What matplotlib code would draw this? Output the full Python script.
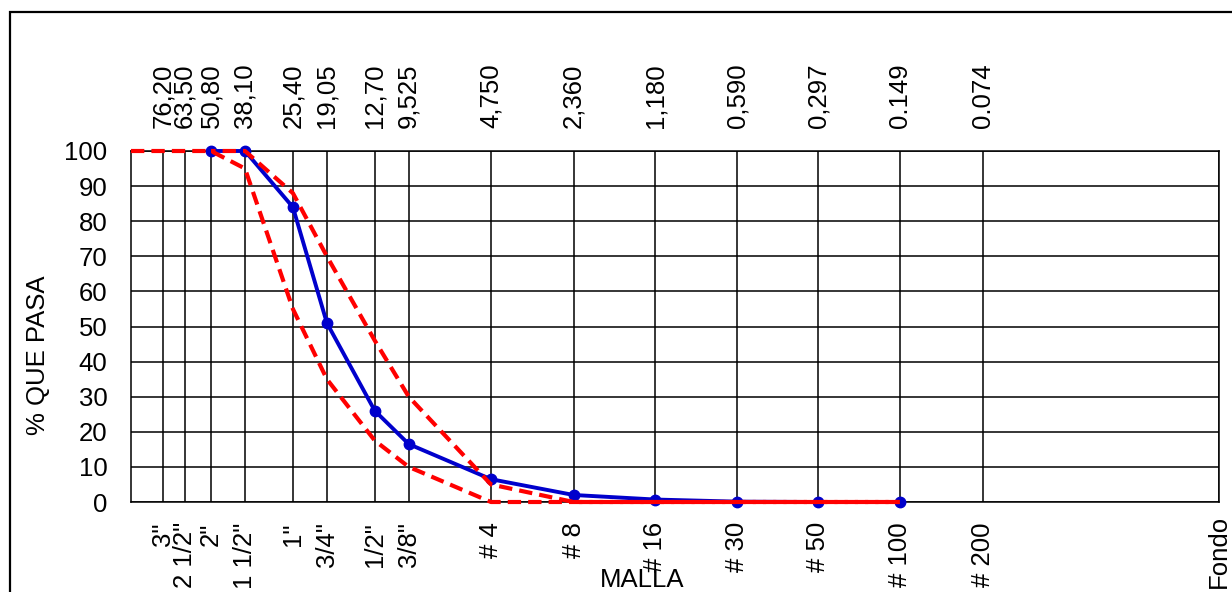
import matplotlib
matplotlib.use("Agg")
import matplotlib.pyplot as plt
import numpy as np
from matplotlib.patches import Rectangle
from matplotlib.transforms import ScaledTranslation

plt.rcParams['font.family'] = ['Liberation Sans', 'DejaVu Sans']

# sieve openings (mm) and labels
sieve_mm = [76.2, 63.5, 50.8, 38.1, 25.4, 19.05, 12.7, 9.525, 4.75,
            2.36, 1.18, 0.59, 0.297, 0.149, 0.074]
mm_labels = ["76,20", "63,50", "50,80", "38,10", "25,40", "19,05", "12,70",
             "9,525", "4,750", "2,360", "1,180", "0,590", "0,297", "0.149",
             "0.074"]
fondo_mm = 0.01
sieve_names = ['3"', '2 1/2"', '2"', '1 1/2"', '1"', '3/4"', '1/2"', '3/8"',
               '# 4', '# 8', '# 16', '# 30', '# 50', '# 100', '# 200', 'Fondo']

# sample gradation
sample_mm = [50.8, 38.1, 25.4, 19.05, 12.7, 9.525, 4.75, 2.36, 1.18,
             0.59, 0.297, 0.149]
sample_pass = [100, 100, 84, 51, 26, 16.5, 6.5, 2, 0.7, 0.1, 0, 0]

# specification limits
limit_mm = [100, 76.2, 63.5, 50.8, 38.1, 25.4, 19.05, 12.7, 9.525, 4.75,
            2.36, 1.18, 0.59, 0.297, 0.149]
upper_pass = [100, 100, 100, 100, 100, 88, 70, 46, 30, 5, 0, 0, 0, 0, 0]
lower_pass = [100, 100, 100, 100, 95, 55, 35, 17.5, 10, 0, 0, 0, 0, 0, 0]

W, H = 1232, 592
FS = 18.5
fig = plt.figure(figsize=(W / 100, H / 100), dpi=100)
ax = fig.add_axes([131 / W, 1 - 502 / H, (1219 - 131) / W, (502 - 151) / H])

ax.set_xscale('log')
ax.set_xlim(100, fondo_mm)
ax.set_ylim(0, 100)

lw_red = 3
dash = (3.2, 1.7)
period = sum(dash)


def path_len(xs, ys, upto):
    pts = ax.transData.transform(np.column_stack([xs, ys]))[:upto + 1]
    seg = np.hypot(*np.diff(pts, axis=0).T)
    return seg.sum() * 72 / fig.dpi / lw_red


# the upper limit is drawn from where it leaves the lower one (50.8 mm);
# its dash phase is set so both limits fill each other's gaps along 0 %
j = limit_mm.index(50.8)
i0 = limit_mm.index(2.36)
off_up = (path_len(limit_mm, lower_pass, i0)
          - path_len(limit_mm[j:], upper_pass[j:], i0 - j)
          + period / 2) % period

ax.plot(sample_mm, sample_pass, color='#0000CC', lw=2.8, marker='o',
        markersize=7.5, clip_on=False, zorder=3)
ax.plot(limit_mm[j:], upper_pass[j:], color='#FF0000', lw=lw_red,
        ls=(off_up, dash), clip_on=False, zorder=4)
ax.plot(limit_mm, lower_pass, color='#FF0000', lw=lw_red, ls=(0, dash),
        clip_on=False, zorder=4)

ax.set_yticks(range(0, 101, 10))
ax.set_xticks(sieve_mm + [fondo_mm], labels=sieve_names, rotation=90)
ax.minorticks_off()
ax.tick_params(axis='both', length=0, labelsize=FS)
ax.tick_params(axis='x', pad=14.5)
ax.tick_params(axis='y', pad=17)
ax.grid(True, color='black', lw=1.1)
ax.set_axisbelow(True)
for s in ax.spines.values():
    s.set_color('black')
    s.set_linewidth(1.1)

# Fondo sits a little higher so it fits inside the picture
fondo_lbl = ax.get_xticklabels()[-1]
fondo_lbl.set_transform(fondo_lbl.get_transform()
                        + ScaledTranslation(0, 0.07, fig.dpi_scale_trans))

top = ax.secondary_xaxis('top')
top.set_xticks(sieve_mm, labels=mm_labels, rotation=90)
top.minorticks_off()
top.tick_params(length=0, labelsize=FS, pad=16.5)
top.spines['top'].set_visible(False)

fig.text(38 / W, 1 - 355 / H, '% QUE PASA', rotation=90, ha='center',
         va='center', fontsize=FS)
fig.text(642 / W, 1 - 587 / H, 'MALLA', ha='center', va='baseline',
         fontsize=FS)

fig.patches.append(Rectangle((10 / W, -0.1), 1.2, 1.1 - 12 / H, fill=False,
                             lw=1.6, edgecolor='black',
                             transform=fig.transFigure))

fig.savefig('out.png', dpi=100)
